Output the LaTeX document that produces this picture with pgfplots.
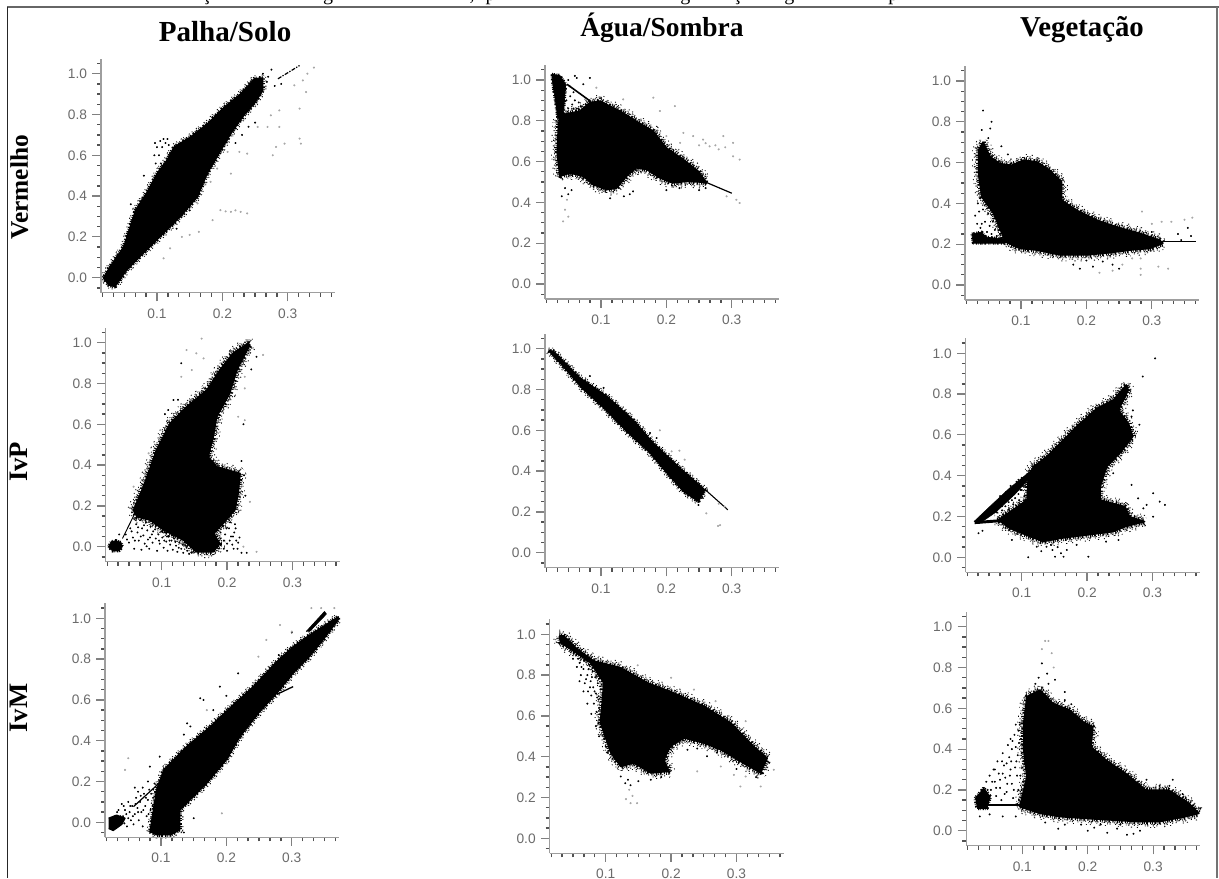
\documentclass[border=0pt]{standalone}
\usepackage{pgfplots}
\usepackage{pgfplotstable}
\usepackage{fontspec}
\pgfplotsset{compat=1.18}
\setmainfont{Liberation Serif}
\newfontfamily\lsans{Liberation Sans}
\pgfplotsset{
  pan/.style 2 args={
    at={({(#1-56)*0.75pt},{(878-#2-15)*0.75pt})},anchor=south west,
    scale only axis,width=175.4pt,height=175.5pt,
    xmin=0.0144,xmax=0.372,ymin=-0.0735,ymax=1.0735,clip=false,axis on top,
    axis x line=bottom,axis y line=left,
    axis line style={-,color=black!38,line width=1.1pt},
    xtick={0.1,0.2,0.3},ytick={0,0.2,0.4,0.6,0.8,1.0},
    minor xtick={.0167,.0333,.05,.0667,.0833,.1167,.1333,.15,.1667,.1833,.2167,.2333,.25,.2667,.2833,.3167,.3333,.35,.3667},
    minor ytick={-.05,.05,.1,.15,.25,.3,.35,.45,.5,.55,.65,.7,.75,.85,.9,.95,1.05},
    tick align=outside,major tick length=6.5pt,minor tick length=3pt,
    major tick style={color=black!50,line width=.9pt},
    minor tick style={color=black!68,line width=1pt},
    tick label style={font=\lsans\fontsize{10.3}{12}\selectfont,text=black!58},
    /pgf/number format/assume math mode=true,
    /pgf/number format/fixed,/pgf/number format/fixed zerofill,/pgf/number format/precision=1,
    xticklabel style={yshift=-2pt},yticklabel style={xshift=-.5pt},
    every axis plot/.append style={line join=round},
  },
  ringa/.style={draw=black,mark=none,line join=bevel,line width=9.4pt,dash pattern=on .7pt off 3.7pt on .9pt off 6.1pt on .6pt off 2.3pt on .8pt off 8.9pt},
  ringb/.style={draw=black,mark=none,line join=bevel,line width=6.8pt,dash pattern=on .8pt off 1.9pt on .7pt off 3.3pt on 1pt off 1.1pt on .6pt off 4.7pt},
  ringc/.style={draw=black,mark=none,line join=bevel,line width=4.8pt,dash pattern=on 1pt off .9pt on .7pt off 1.7pt on 1.2pt off .7pt on .8pt off 2.3pt},
  comb/.style={draw=black,mark=none,line join=bevel,line width=3.6pt,dash pattern=on .6pt off .6pt on 1pt off 1.2pt on .5pt off .8pt on .8pt off 1.7pt on 1.3pt off .9pt},
  whi/.style={draw=white,mark=none,line width=#1},
  lin/.style={draw=black,mark=none,line width=1.3pt},
  pts/.style={only marks,mark=*,mark size=.55pt,color=black,mark options={draw=none,fill=black}},
  fnt/.style={only marks,mark=*,mark size=.6pt,color=black!35,mark options={draw=none,fill=black!30}},
}
\newcommand{\blob}[1]{%
  \addplot[ringa] table {#1};
  \addplot[whi=8pt] table {#1};
  \addplot[ringb] table {#1};
  \addplot[whi=5.4pt] table {#1};
  \addplot[ringc] table {#1};
  \addplot[whi=3.4pt] table {#1};
  \addplot[comb] table {#1};
  \addplot[fill=black,draw=black,line width=1.1pt,mark=none] table {#1};}
\newcommand{\blobt}[1]{%
  \addplot[ringb,line width=5pt] table {#1};
  \addplot[whi=3.6pt] table {#1};
  \addplot[comb,line width=2.8pt] table {#1};
  \addplot[fill=black,draw=black,line width=.8pt,mark=none] table {#1};}
\newcommand{\core}[1]{%
  \addplot[comb,line width=2.2pt] table {#1};
  \addplot[fill=black,draw=black,line width=.5pt,mark=none] table {#1};}

\pgfplotstableread{
x y
.018 0
.028 .054
.049 .152
.067 .331
.085 .421
.100 .511
.115 .576
.126 .641
.151 .69
.177 .755
.203 .837
.228 .902
.249 .976
.262 .98
.262 .918
.249 .853
.233 .796
.213 .706
.192 .592
.177 .511
.162 .396
.136 .299
.110 .217
.079 .119
.054 .038
.036 -.044
.026 -.036
.018 0
}\ta
\pgfplotstableread{
x y
.035 .79
.042 .831
.068 .848
.083 .889
.098 .897
.129 .848
.154 .798
.18 .749
.2 .667
.226 .61
.249 .552
.261 .498
.231 .503
.21 .495
.19 .52
.17 .561
.154 .569
.139 .528
.124 .47
.109 .462
.088 .487
.073 .528
.053 .544
.037 .528
.033 .643
.035 .79
}\tb
\pgfplotstableread{
x y
.025 1.028
.037 1.023
.046 .979
.042 .81
.034 .81
.030 .905
.026 .987
.025 1.028
}\tbb
\pgfplotstableread{
x y
.035 .661
.042 .701
.053 .628
.068 .595
.086 .587
.104 .612
.124 .604
.144 .563
.162 .506
.162 .416
.185 .367
.216 .318
.246 .285
.282 .253
.312 .22
.317 .204
.297 .179
.266 .171
.236 .158
.2 .147
.16 .147
.124 .171
.098 .179
.076 .212
.058 .351
.04 .432
.035 .546
.035 .661
}\tc
\pgfplotstableread{
x y
.025 .25
.04 .26
.045 .235
.076 .225
.076 .205
.027 .205
.025 .25
}\tcc
\pgfplotstableread{
x y
.057 .18
.072 .294
.092 .474
.113 .605
.138 .686
.169 .768
.189 .866
.209 .948
.232 .997
.235 .989
.215 .866
.204 .752
.184 .637
.179 .539
.171 .441
.184 .392
.22 .359
.217 .261
.212 .18
.194 .114
.179 .065
.189 .016
.179 -.025
.153 -.025
.133 .033
.103 .082
.082 .131
.062 .147
.057 .18
}\td
\pgfplotstableread{
x y
.019 0
.023 .025
.03 .03
.038 .02
.04 0
.035 -.02
.025 -.022
.019 0
}\tdd
\pgfplotstableread{
x y
.02 .989
.027 .989
.068 .857
.109 .767
.149 .652
.18 .538
.221 .415
.259 .308
.249 .251
.226 .3
.203 .382
.175 .489
.139 .595
.104 .71
.073 .8
.037 .931
.02 .989
}\te
\pgfplotstableread{
x y
.118 .444
.138 .493
.159 .559
.184 .641
.215 .73
.24 .771
.26 .845
.263 .82
.248 .722
.263 .657
.27 .592
.25 .51
.23 .444
.22 .346
.22 .281
.258 .248
.265 .199
.288 .175
.258 .15
.24 .126
.199 .109
.159 .093
.133 .077
.113 .101
.082 .142
.064 .183
.108 .28
.11 .395
.118 .444
}\tf
\pgfplotstableread{
x y
.083 -.046
.093 .158
.104 .257
.139 .371
.175 .469
.21 .575
.241 .665
.277 .788
.302 .861
.327 .918
.355 .975
.371 1.008
.371 .992
.348 .894
.327 .812
.302 .73
.277 .632
.251 .542
.221 .42
.2 .306
.17 .191
.129 .06
.129 -.038
.114 -.062
.093 -.062
.083 -.046
}\tg
\pgfplotstableread{
x y
.029 .992
.036 .992
.057 .926
.082 .869
.123 .836
.164 .762
.204 .713
.25 .648
.291 .566
.326 .451
.347 .393
.337 .32
.306 .377
.276 .434
.25 .467
.22 .492
.199 .451
.189 .385
.197 .328
.169 .32
.143 .369
.123 .352
.108 .418
.092 .566
.097 .762
.077 .861
.047 .926
.031 .959
.029 .992
}\th
\pgfplotstableread{
x y
.102 .526
.107 .657
.127 .69
.147 .624
.172 .592
.193 .534
.208 .51
.205 .412
.228 .346
.258 .281
.289 .199
.324 .199
.355 .134
.37 .085
.35 .069
.309 .044
.279 .044
.238 .052
.198 .06
.157 .069
.127 .085
.096 .118
.107 .265
.102 .395
.102 .526
}\ti

\begin{document}
\begin{tikzpicture}
\path[use as bounding box] (0,0) rectangle (914.25pt,658.5pt);
\draw[black!60,line width=1.1pt] (5.5pt,653.4pt) -- (914.25pt,653.4pt);
\draw[black!85,line width=.9pt] (5.5pt,653.4pt) -- (5.5pt,0);
\draw[black!55,line width=1.2pt] (912.9pt,653.4pt) -- (912.9pt,0);
\begin{scope}
\clip (0,653.8pt) rectangle (914.25pt,658.5pt);
\foreach \cx/\ct in {155/ç,246/g,354/{,},368/p,514/g,553/ç,592/g,670/p}
  \node[anchor=base,inner sep=0,font=\fontsize{15}{15}\selectfont] at (\cx pt,658.2pt) {\ct};
\end{scope}
\node[font=\bfseries\fontsize{21.8}{24}\selectfont,inner sep=0] at (168.8pt,634.5pt) {Palha/Solo};
\node[font=\bfseries\fontsize{20.6}{24}\selectfont,inner sep=0] at (496.5pt,637.5pt) {Água/Sombra};
\node[font=\bfseries\fontsize{21.6}{24}\selectfont,inner sep=0] at (811.5pt,636pt) {Vegetação};
\node[rotate=90,font=\bfseries\fontsize{19}{22}\selectfont,inner sep=0] at (14.5pt,518pt) {Vermelho};
\node[rotate=90,font=\bfseries\fontsize{20}{22}\selectfont,inner sep=0] at (14pt,312pt) {IvP};
\node[rotate=90,font=\bfseries\fontsize{20}{22}\selectfont,inner sep=0] at (14pt,127.5pt) {IvM};

\begin{axis}[pan={157}{277.7}]
\blobt{\ta}
\addplot[lin,line width=.9pt,dash pattern=on 3pt off 1pt on 1pt off 1pt] coordinates {(.285,.975) (.318,1.04)};
\addplot[pts] coordinates {(.098,.56) (.096,.6) (.1,.64) (.097,.66) (.103,.6) (.105,.67) (.108,.64) (.11,.68) (.113,.66) (.116,.68) (.118,.65) (.12,.61) (.106,.56) (.102,.52) (.27,.985) (.275,1.02) (.262,1.0) (.268,.96) (.28,.94) (.29,.95) (.24,.74) (.25,.76) (.23,.70) (.22,.66) (.155,.45) (.16,.40) (.09,.3) (.06,.08) (.13,.24) (.15,.33) (.08,.5) (.06,.36)};
\addplot[fnt] coordinates {(.31,.943) (.323,.967) (.328,.91) (.318,.829) (.287,.82) (.274,.796) (.254,.739) (.269,.739) (.287,.739) (.295,.657) (.282,.641) (.277,.6) (.318,.682) (.32,.657) (.238,.608) (.226,.617) (.208,.617) (.213,.51) (.192,.535) (.182,.47) (.162,.364) (.197,.331) (.205,.325) (.213,.323) (.22,.33) (.228,.323) (.238,.315) (.185,.282) (.164,.225) (.15,.21) (.138,.2) (.12,.144) (.11,.095) (.33,1.0) (.34,1.03)};
\end{axis}

\begin{axis}[pan={601}{284}]
\blob{\tb}
\core{\tbb}
\addplot[lin,line width=1.2pt] coordinates {(.048,.979) (.073,.921) (.085,.893)};
\addplot[lin,line width=.9pt] coordinates {(.261,.498) (.30,.445)};
\addplot[pts] coordinates {(.047,.9) (.05,.86) (.053,.92) (.056,.88) (.06,.9) (.063,.86) (.066,.89) (.069,.87) (.058,.86) (.045,.95) (.052,.97) (.058,.94) (.063,1.01) (.083,1.01) (.073,.979) (.06,1.02) (.05,1.0) (.045,.47) (.05,.44) (.055,.46) (.04,.43) (.114,.42) (.144,.44) (.149,.454) (.135,.43) (.22,.47) (.25,.46) (.26,.47) (.2,.46)};
\addplot[fnt] coordinates {(.093,.962) (.134,.905) (.18,.913) (.213,.872) (.19,.848) (.226,.741) (.256,.708) (.266,.675) (.287,.725) (.302,.692) (.302,.626) (.312,.61) (.221,.692) (.2,.725) (.241,.725) (.292,.43) (.307,.413) (.312,.397) (.045,.364) (.042,.307) (.05,.33) (.048,.413) (.25,.68) (.26,.69) (.275,.68) (.28,.66) (.29,.67)};
\end{axis}

\begin{axis}[pan={1021}{285}]
\blob{\tc}
\core{\tcc}
\addplot[lin,line width=1.1pt] coordinates {(.317,.212) (.368,.212)};
\addplot[pts] coordinates {(.033,.3) (.036,.36) (.04,.3) (.042,.37) (.045,.31) (.048,.26) (.05,.35) (.052,.29) (.055,.25) (.057,.31) (.06,.27) (.063,.24) (.066,.3) (.068,.25) (.071,.23) (.074,.28) (.034,.4) (.038,.28) (.046,.24) (.03,.34) (.042,.855) (.055,.8) (.053,.767) (.04,.76) (.05,.72) (.07,.68) (.08,.64) (.18,.1) (.2,.12) (.21,.09) (.225,.115) (.24,.1) (.25,.08) (.19,.08) (.355,.28) (.36,.24) (.34,.25) (.345,.22) (.3,.26)};
\addplot[fnt] coordinates {(.3,.3) (.315,.31) (.33,.31) (.35,.32) (.362,.33) (.285,.36) (.283,.13) (.283,.08) (.283,.05) (.31,.09) (.325,.08) (.255,.1) (.27,.13) (.22,.06) (.24,.07)};
\end{axis}

\begin{axis}[pan={161.7}{546.7}]
\blob{\td}
\core{\tdd}
\addplot[lin,line width=.7pt] coordinates {(.04,.04) (.06,.17)};
\addplot[pts] coordinates {(.045,.06) (.05,.02) (.052,.09) (.056,.045) (.058,-.01) (.061,.11) (.063,.07) (.065,.03) (.067,.13) (.069,-.015) (.07,.09) (.072,.055) (.074,.015) (.076,.12) (.078,.08) (.079,.035) (.081,-.01) (.083,.1) (.085,.06) (.086,.02) (.088,.125) (.09,.085) (.091,.04) (.093,-.02) (.095,.06) (.097,.015) (.099,.1) (.101,.045) (.103,-.005) (.105,.07) (.107,.025) (.109,-.02) (.111,.05) (.113,.01) (.115,.03) (.117,-.015) (.119,.04) (.122,.005) (.124,-.025) (.127,.02) (.13,-.01) (.133,-.03) (.136,.005) (.139,-.02) (.142,-.035) (.146,-.03) (.186,.08) (.19,.04) (.193,.1) (.197,.06) (.2,.015) (.203,.09) (.206,.05) (.208,.01) (.211,.07) (.214,.03) (.216,-.01) (.219,.045) (.222,-.03) (.2,-.02) (.205,.12) (.212,.11) (.047,.035) (.054,.075) (.059,.03) (.064,.095) (.068,.05) (.073,.105) (.077,.002) (.082,.045) (.087,.075) (.092,.105) (.096,.03) (.1,.075) (.104,.03) (.108,.05) (.112,.03) (.116,.055) (.121,.025) (.126,-.005) (.132,.01) (.138,-.005) (.19,.07) (.195,.03) (.199,.09) (.204,.03) (.209,.05) (.213,.09) (.217,.02) (.21,-.01) (.195,-.01) (.13,.899) (.11,.67) (.118,.719) (.125,.72) (.105,.65) (.237,.869) (.245,.931) (.225,.6) (.222,.42) (.226,.35) (.228,.25) (.035,.06) (.23,-.03)};
\addplot[fnt] coordinates {(.161,1.02) (.138,.964) (.153,.948) (.164,.923) (.146,.866) (.13,.833) (.255,.94) (.227,.833) (.227,.776) (.227,.62) (.217,.637) (.08,.458) (.075,.376) (.057,.294) (.245,-.025) (.225,0) (.235,.22)};
\end{axis}

\begin{axis}[pan={601}{552.7}]
\blobt{\te}
\addplot[lin,line width=.8pt] coordinates {(.259,.31) (.294,.21)};
\addplot[pts] coordinates {(.083,.866) (.076,.841) (.104,.808) (.157,.628) (.175,.587) (.185,.562) (.249,.234) (.255,.27) (.245,.26)};
\addplot[fnt] coordinates {(.208,.497) (.228,.456) (.261,.193) (.279,.131) (.282,.135) (.289,.226) (.22,.5) (.19,.6) (.28,.24)};
\end{axis}

\begin{axis}[pan={1021.7}{557.3}]
\blob{\tf}
\addplot[fill=black,draw=black,line width=.4pt,mark=none] coordinates {(.027,.175) (.05,.245) (.08,.335) (.12,.44) (.118,.41) (.09,.31) (.06,.22) (.035,.165)};
\addplot[lin,line width=2.2pt] coordinates {(.028,.17) (.07,.18) (.09,.16)};
\addplot[pts] coordinates {(.075,.25) (.085,.28) (.09,.29) (.095,.31) (.1,.33) (.105,.35) (.098,.33) (.088,.31) (.08,.27) (.07,.23) (.055,.24) (.06,.27) (.062,.22) (.067,.3) (.07,.25) (.072,.21) (.076,.32) (.078,.28) (.08,.235) (.083,.35) (.085,.3) (.087,.26) (.09,.21) (.092,.37) (.094,.33) (.096,.28) (.098,.235) (.1,.39) (.102,.35) (.104,.3) (.1,.25) (.105,.25) (.107,.4) (.109,.33) (.07,.195) (.08,.2) (.09,.19) (.1,.2) (.095,.17) (.045,.215) (.058,.25) (.066,.28) (.074,.29) (.082,.33) (.088,.35) (.095,.38) (.103,.37) (.106,.38) (.11,.41) (.112,.37) (.113,.33) (.105,.28) (.112,.3) (.268,.355) (.278,.289) (.291,.257) (.301,.314) (.311,.273) (.319,.257) (.301,.199) (.286,.24) (.304,.975) (.285,.886) (.268,.69) (.24,.412) (.034,.118) (.085,.085) (.11,0) (.151,.003) (.164,.003) (.202,.003) (.123,.052) (.138,.052) (.147,.036) (.169,.036) (.184,.061) (.229,.077) (.248,.085) (.13,.03) (.145,.06) (.155,.05) (.16,.02) (.04,.13) (.28,.65) (.27,.72)};
\end{axis}

\begin{axis}[pan={161}{822.3}]
\blobt{\tg}
\addplot[fill=black,draw=black,line width=.5pt,mark=none] coordinates {(.322,.935) (.35,1.033) (.353,1.021) (.327,.935)};
\addplot[fill=black,draw=black,line width=1pt,mark=none] coordinates {(.02,.02) (.032,.035) (.045,.02) (.04,-.01) (.027,-.04) (.02,-.03)};
\addplot[lin,line width=.9pt] coordinates {(.058,.077) (.1,.2)};
\addplot[lin,line width=1pt] coordinates {(.277,.627) (.302,.665)};
\addplot[pts] coordinates {(.03,.03) (.035,.06) (.04,.09) (.042,.03) (.045,.06) (.048,-.02) (.05,.1) (.052,.05) (.054,.01) (.056,.08) (.058,-.01) (.06,.04) (.062,.12) (.064,.07) (.066,.01) (.068,.1) (.07,.05) (.072,-.02) (.074,.14) (.076,.08) (.078,.03) (.08,.11) (.082,.16) (.084,.06) (.086,-.02) (.088,.12) (.09,.19) (.05,.02) (.044,-.005) (.065,.15) (.072,.17) (.08,.2) (.09,.09) (.033,.05) (.038,.03) (.043,.08) (.047,.04) (.053,.08) (.057,.03) (.061,.09) (.065,.05) (.069,.13) (.073,.06) (.077,.12) (.081,.04) (.085,.14) (.087,.08) (.089,.03) (.091,.15) (.098,.322) (.083,.273) (.06,.17) (.14,.485) (.145,.47) (.135,.43) (.19,.665) (.165,.6) (.16,.608) (.218,.73) (.2,.62) (.18,.55) (.28,.82) (.3,.93) (.135,-.05) (.15,.02)};
\addplot[fnt] coordinates {(.05,.314) (.045,.257) (.282,.967) (.261,.894) (.249,.812) (.3,.935) (.193,.044) (.33,1.05) (.345,1.05) (.365,1.05) (.17,.55)};
\end{axis}

\begin{axis}[pan={605.7}{838.3}]
\blob{\th}
\addplot[pts] coordinates {(.05,.88) (.055,.9) (.056,.84) (.06,.86) (.062,.8) (.065,.89) (.066,.83) (.068,.76) (.07,.87) (.072,.8) (.073,.72) (.075,.85) (.077,.77) (.078,.7) (.08,.82) (.081,.74) (.082,.66) (.084,.79) (.085,.71) (.086,.62) (.088,.76) (.089,.68) (.09,.58) (.091,.83) (.092,.73) (.094,.65) (.095,.78) (.096,.53) (.098,.49) (.1,.45) (.103,.42) (.06,.77) (.066,.72) (.072,.66) (.078,.61) (.085,.55) (.09,.5) (.052,.91) (.058,.88) (.063,.84) (.067,.87) (.07,.78) (.074,.83) (.076,.74) (.079,.79) (.083,.72) (.087,.69) (.09,.64) (.093,.6) (.095,.7) (.094,.55) (.097,.6) (.099,.53) (.123,.303) (.134,.287) (.169,.287) (.138,.26) (.13,.27) (.15,.28) (.185,.3) (.225,.434) (.255,.402) (.24,.44) (.27,.42) (.3,.34) (.33,.3) (.35,.37) (.19,.62)};
\addplot[fnt] coordinates {(.138,.172) (.148,.172) (.136,.238) (.141,.208) (.131,.192) (.357,.336) (.337,.254) (.306,.254) (.314,.303) (.296,.311) (.276,.352) (.24,.328) (.314,.574) (.288,.6) (.268,.672) (.235,.729) (.2,.787) (.149,.848)};
\end{axis}

\begin{axis}[pan={1022.3}{830.7}]
\blob{\ti}
\addplot[comb,line width=2.6pt] coordinates {(.028,.158) (.041,.208) (.051,.167) (.046,.109) (.031,.109) (.028,.158)};
\addplot[fill=black,draw=black,line width=.6pt,mark=none] coordinates {(.028,.158) (.041,.208) (.051,.167) (.046,.109) (.031,.109)};
\addplot[lin,line width=1.2pt] coordinates {(.046,.125) (.096,.125)};
\addplot[pts] coordinates {(.045,.24) (.05,.27) (.052,.2) (.056,.3) (.058,.24) (.06,.17) (.062,.34) (.064,.28) (.066,.21) (.068,.15) (.07,.38) (.072,.32) (.074,.26) (.076,.19) (.078,.42) (.08,.36) (.082,.3) (.084,.23) (.086,.16) (.088,.47) (.09,.41) (.091,.34) (.092,.27) (.094,.2) (.095,.15) (.096,.52) (.098,.45) (.099,.38) (.1,.31) (.101,.24) (.102,.18) (.104,.58) (.105,.49) (.09,.52) (.084,.4) (.076,.33) (.07,.28) (.082,.45) (.058,.3) (.047,.2) (.054,.24) (.06,.21) (.066,.25) (.069,.34) (.073,.18) (.077,.23) (.081,.27) (.083,.34) (.087,.2) (.089,.31) (.093,.37) (.095,.43) (.097,.27) (.099,.2) (.101,.42) (.103,.33) (.094,.49) (.1,.5) (.085,.44) (.13,.82) (.125,.75) (.138,.77) (.12,.72) (.14,.72) (.13,.7) (.15,.74) (.165,.68) (.165,.64) (.175,.62) (.19,.03) (.2,0) (.21,.015) (.22,.03) (.23,-.01) (.245,.01) (.25,.03) (.26,-.02) (.27,-.015) (.28,0) (.165,.03) (.155,.01) (.135,.04) (.09,.07) (.07,.07) (.05,.08) (.035,.07) (.36,.1) (.372,.11) (.33,.25) (.325,.22) (.345,.18) (.35,.16) (.31,.22) (.29,.25)};
\addplot[fnt] coordinates {(.135,.93) (.14,.93) (.13,.89) (.145,.87) (.148,.8)};
\end{axis}
\end{tikzpicture}
\end{document}
